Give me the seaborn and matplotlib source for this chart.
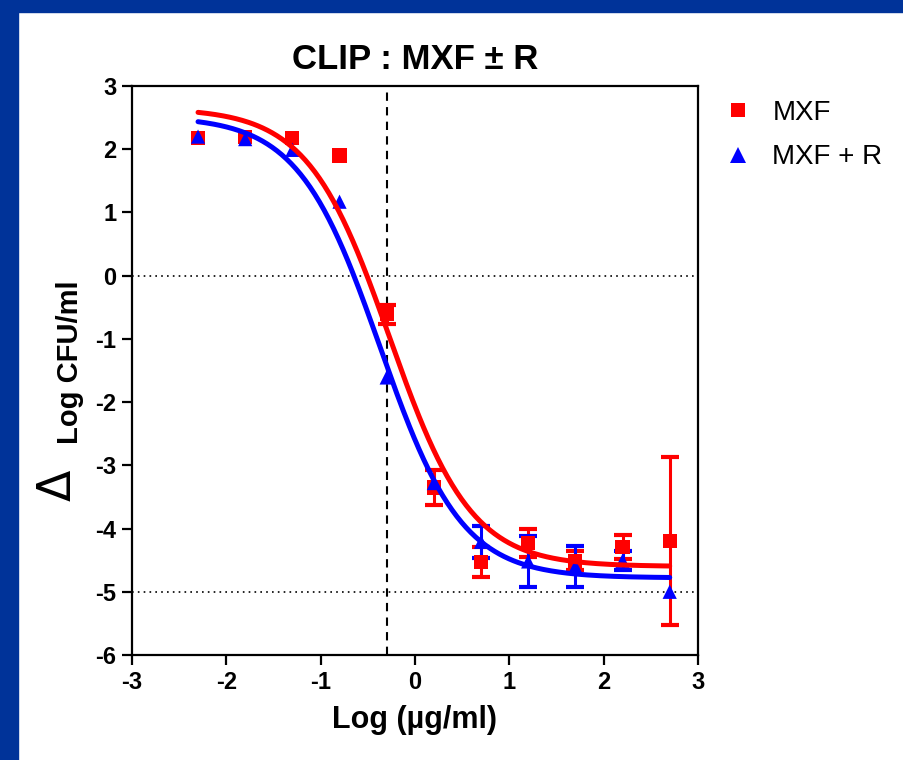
import numpy as np
import pandas as pd
import matplotlib
matplotlib.use("Agg")
import matplotlib.pyplot as plt
from matplotlib.patches import Rectangle
import seaborn as sns

# log10 of drug concentration (ug/ml)
log_conc = [-2.3, -1.8, -1.3, -0.8, -0.3, 0.2, 0.7, 1.2, 1.7, 2.2, 2.7]

# change in log CFU/ml, mean and SD
mxf_mean = [2.18, 2.19, 2.18, 1.90, -0.61, -3.35, -4.53, -4.23, -4.51, -4.29, -4.20]
mxf_sd = [0.0, 0.0, 0.0, 0.0, 0.15, 0.28, 0.24, 0.22, 0.15, 0.19, 1.33]
mxf_r_mean = [2.20, 2.16, 1.99, 1.17, -1.61, -3.28, -4.21, -4.52, -4.60, -4.51, -5.00]
mxf_r_sd = [0.0, 0.0, 0.0, 0.0, 0.0, 0.0, 0.25, 0.41, 0.32, 0.15, 0.0]

# sigmoid fit parameters (top, bottom, logEC50, hill slope)
mxf_fit = (2.65, -4.60, -0.27, 1.0)
mxf_r_fit = (2.52, -4.78, -0.37, 1.0)

series_names = ["MXF", "MXF + R"]
series_colors = {"MXF": "#ff0000", "MXF + R": "#0000ff"}
series_markers = {"MXF": "s", "MXF + R": "^"}


def sigmoid(x, top, bottom, logec50, hill):
    return bottom + (top - bottom) / (1 + 10 ** ((x - logec50) * hill))


def plot():
    sns.set_style("ticks")
    plt.rcParams["font.family"] = ["Liberation Sans", "DejaVu Sans"]
    plt.rcParams["axes.unicode_minus"] = False
    plt.rcParams["text.color"] = "black"
    plt.rcParams["axes.labelcolor"] = "black"
    plt.rcParams["xtick.color"] = "black"
    plt.rcParams["ytick.color"] = "black"

    fig = plt.figure(figsize=(9.04, 7.6), dpi=100)
    fig.patch.set_facecolor("white")
    # blue slide frame
    fig.patches.append(Rectangle((0, 0), 18 / 904, 1, transform=fig.transFigure,
                                 color="#003399", zorder=0))
    fig.patches.append(Rectangle((0, 1 - 12 / 760), 1, 12 / 760, transform=fig.transFigure,
                                 color="#003399", zorder=0))

    ax = fig.add_axes([132 / 904, 1 - 655 / 760, 566 / 904, 569 / 760])

    points = pd.DataFrame({
        "x": log_conc * 2,
        "y": mxf_mean + mxf_r_mean,
        "sd": mxf_sd + mxf_r_sd,
        "group": ["MXF"] * len(log_conc) + ["MXF + R"] * len(log_conc),
    })

    xs = np.linspace(log_conc[0], log_conc[-1], 300)
    curves = pd.DataFrame({
        "x": np.concatenate([xs, xs]),
        "y": np.concatenate([sigmoid(xs, *mxf_fit), sigmoid(xs, *mxf_r_fit)]),
        "group": ["MXF"] * len(xs) + ["MXF + R"] * len(xs),
    })

    # reference lines
    ax.axhline(0, color="black", ls=(0, (1, 2.5)), lw=1.2, zorder=1)
    ax.axhline(-5, color="black", ls=(0, (1, 2.5)), lw=1.2, zorder=1)
    ax.axvline(np.log10(0.5), color="black", ls=(0, (4, 3)), lw=1.5, zorder=1)

    for name in series_names:
        sub = points[points["group"] == name]
        has_err = sub["sd"] > 0
        ax.errorbar(sub["x"][has_err], sub["y"][has_err], yerr=sub["sd"][has_err],
                    fmt="none", ecolor=series_colors[name], elinewidth=2.2,
                    capsize=6.5, capthick=3, zorder=2)

    sns.scatterplot(data=points, x="x", y="y", hue="group", style="group",
                    palette=series_colors, markers=series_markers,
                    hue_order=series_names, style_order=series_names,
                    s=105, linewidth=0, ax=ax, zorder=3, legend=False)

    sns.lineplot(data=curves, x="x", y="y", hue="group", palette=series_colors,
                 hue_order=series_names, lw=3.6, ax=ax, zorder=4, legend=False)

    ax.set_xlim(-3, 3)
    ax.set_ylim(-6, 3)
    ax.set_xticks(range(-3, 4))
    ax.set_yticks(range(-6, 4))
    for sp in ax.spines.values():
        sp.set_linewidth(1.6)
        sp.set_color("black")
    ax.tick_params(axis="both", direction="out", length=7.2, width=1.6,
                   labelsize=17, pad=4, colors="black")
    for lab in ax.get_xticklabels() + ax.get_yticklabels():
        lab.set_fontweight("bold")

    ax.set_title("CLIP : MXF \u00b1 R", fontsize=25, fontweight="bold", pad=12)
    ax.set_xlabel("Log (\u00b5g/ml)", fontsize=22, fontweight="bold", labelpad=8)
    ax.set_ylabel("")

    fig.text(58 / 904, 1 - 485 / 760, "\u0394", rotation=90, fontsize=33,
             ha="center", va="center", family=["DejaVu Sans"])
    fig.text(70 / 904, 1 - 362 / 760, "Log CFU/ml", rotation=90, fontsize=21,
             fontweight="bold", ha="center", va="center")

    # legend
    handles = [
        plt.Line2D([], [], ls="none", marker=series_markers[n], color=series_colors[n],
                   markersize=9.5 if n == "MXF" else 11, markeredgewidth=0)
        for n in series_names
    ]
    fig.legend(handles, series_names, loc="upper left",
               bbox_to_anchor=(710 / 904, 1 - 86 / 760), frameon=False,
               fontsize=20, handletextpad=0.75, labelspacing=0.67,
               borderpad=0, handlelength=1.0)

    fig.savefig("out.png", dpi=100, facecolor=fig.get_facecolor())
    return ax


def main():
    plot()


if __name__ == "__main__":
    main()
